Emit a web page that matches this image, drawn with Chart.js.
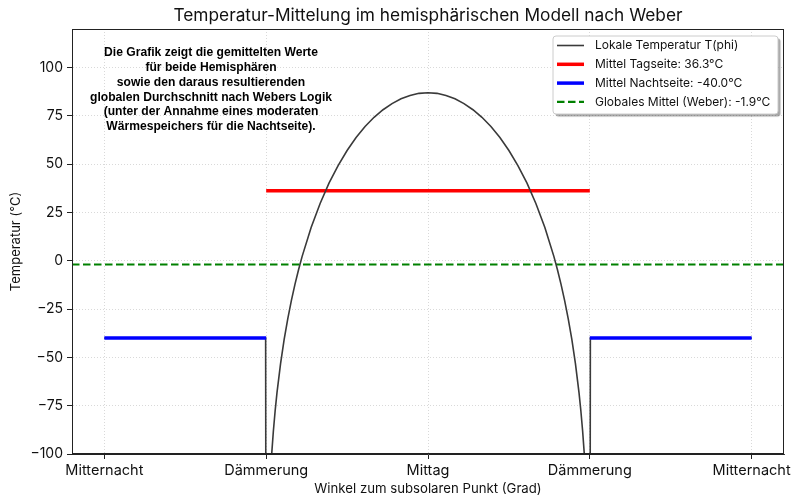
<!DOCTYPE html>
<html>
<head>
<meta charset="utf-8">
<script src="https://cdn.jsdelivr.net/npm/chart.js@4.4.1/dist/chart.umd.min.js"></script>
<style>
  html, body { margin: 0; padding: 0; background: #ffffff; }
  #tempChart { display: block; }
</style>
</head>
<body>
<canvas id="tempChart" width="800" height="504" style="width:800px;height:504px;"></canvas>
<script>
// Angle to the subsolar point (degrees) and local temperature (°C)
const angleDeg = [
  -180, -90.3, -90, -89, -88, -87, -86, -85, -84, -82, -80, -78, -76, -74, -72, -70,
  -65, -60, -55, -50, -45, -40, -35, -30, -25, -20, -15, -10, -5, 0,
  5, 10, 15, 20, 25, 30, 35, 40, 45, 50, 55, 60, 65,
  70, 72, 74, 76, 78, 80, 82, 84, 85, 86, 87, 88, 89, 90, 90.3, 180
];
const localTemp = [
  -40, -40, -273, -142.2, -117.5, -100.9, -88.1, -77.5, -68.4, -53.2, -40.7, -30.0, -20.6, -12.2, -4.6, 2.3,
  17.2, 29.7, 40.3, 49.3, 57.1, 63.8, 69.5, 74.3, 78.2, 81.4, 83.9, 85.6, 86.7, 87.0,
  86.7, 85.6, 83.9, 81.4, 78.2, 74.3, 69.5, 63.8, 57.1, 49.3, 40.3, 29.7, 17.2,
  2.3, -4.6, -12.2, -20.6, -30.0, -40.7, -53.2, -68.4, -77.5, -88.1, -100.9, -117.5, -142.2, -273, -40, -40
];

// Hemisphere means
const dayMean = 36.3;
const nightMean = -40.0;
const globalMean = -1.9;
const daySpan = [-90, 90];
const nightSpanLeft = [-180, -90];
const nightSpanRight = [90, 180];

// Axis ticks
const xTickValues = [-180, -90, 0, 90, 180];
const xTickLabels = ["Mitternacht", "Dämmerung", "Mittag", "Dämmerung", "Mitternacht"];
const yTickValues = [-100, -75, -50, -25, 0, 25, 50, 75, 100];

const noteLines = [
  "Die Grafik zeigt die gemittelten Werte",
  "für beide Hemisphären",
  "sowie den daraus resultierenden",
  "globalen Durchschnitt nach Webers Logik",
  "(unter der Annahme eines moderaten",
  "Wärmespeichers für die Nachtseite)."
];

const FONT = "Inter, 'Open Sans', 'DejaVu Sans', sans-serif";
const X_MIN = -198, X_MAX = 198;

const localPoints = angleDeg.map((a, i) => ({ x: a, y: localTemp[i] }));
const dayPoints = daySpan.map(a => ({ x: a, y: dayMean }));
const nightPoints = [
  ...nightSpanLeft.map(a => ({ x: a, y: nightMean })),
  { x: 0, y: null },
  ...nightSpanRight.map(a => ({ x: a, y: nightMean }))
];
const globalPoints = [X_MIN, X_MAX].map(a => ({ x: a, y: globalMean }));

function minusSign(v) {
  return v < 0 ? "\u2212" + Math.abs(v) : String(v);
}

// Title, frame, note text and the boxed legend inside the plot
const decorPlugin = {
  id: "decor",
  afterDraw(chart) {
    const ctx = chart.ctx;
    const area = chart.chartArea;
    ctx.save();

    // frame
    ctx.strokeStyle = "#222";
    ctx.lineWidth = 1;
    ctx.strokeRect(area.left + 0.5, area.top + 0.5, area.right - area.left - 1, area.bottom - area.top - 1);

    // title
    ctx.fillStyle = "#111";
    ctx.font = "17.3px " + FONT;
    ctx.textAlign = "center";
    ctx.textBaseline = "middle";
    ctx.fillText("Temperatur-Mittelung im hemisphärischen Modell nach Weber", (area.left + area.right) / 2, 16);

    // note, bold and a bit condensed like the original
    ctx.font = "bold 12.5px 'Liberation Sans', Arial, sans-serif";
    ctx.fillStyle = "#000";
    const widest = Math.max(...noteLines.map(l => ctx.measureText(l).width));
    const squeeze = Math.min(1, 242 / widest);
    ctx.save();
    ctx.translate(211, 0);
    ctx.scale(squeeze, 1);
    noteLines.forEach((line, i) => {
      ctx.fillText(line, 0, 53 + i * 14.7);
    });
    ctx.restore();

    // legend
    const items = chart.data.datasets;
    const bx = 553, by = 36, bw = 225, bh = 78;
    ctx.shadowColor = "rgba(0,0,0,0.35)";
    ctx.shadowOffsetX = 2.5;
    ctx.shadowOffsetY = 2.5;
    ctx.shadowBlur = 1;
    ctx.fillStyle = "#ffffff";
    ctx.beginPath();
    ctx.roundRect(bx, by, bw, bh, 3);
    ctx.fill();
    ctx.shadowColor = "transparent";
    ctx.strokeStyle = "#cccccc";
    ctx.lineWidth = 1;
    ctx.stroke();

    ctx.font = "12px " + FONT;
    ctx.textAlign = "left";
    items.forEach((ds, i) => {
      const y = by + 9.5 + i * 18.8;
      ctx.beginPath();
      ctx.strokeStyle = ds.borderColor;
      ctx.lineWidth = ds.borderWidth;
      ctx.setLineDash(ds.borderDash || []);
      ctx.moveTo(557, y);
      ctx.lineTo(584, y);
      ctx.stroke();
      ctx.setLineDash([]);
      ctx.fillStyle = "#111";
      ctx.fillText(ds.label, 595, y);
    });
    ctx.restore();
  }
};

const ctx = document.getElementById("tempChart").getContext("2d");
new Chart(ctx, {
  type: "line",
  data: {
    datasets: [
      {
        label: "Lokale Temperatur T(phi)",
        data: localPoints,
        borderColor: "#3a3a3a",
        borderWidth: 1.6,
        order: 1,
      },
      {
        label: `Mittel Tagseite: ${dayMean.toFixed(1)}°C`,
        data: dayPoints,
        borderColor: "#ff0000",
        borderWidth: 3.5,
        order: 3,
      },
      {
        label: `Mittel Nachtseite: ${nightMean.toFixed(1)}°C`,
        data: nightPoints,
        borderColor: "#0000ff",
        borderWidth: 3.5,
        spanGaps: false,
        order: 0,
      },
      {
        label: `Globales Mittel (Weber): ${globalMean.toFixed(1)}°C`,
        data: globalPoints,
        borderColor: "#008000",
        borderWidth: 2.2,
        borderDash: [7.5, 3.5],
        order: 2,
      },
    ],
  },
  options: {
    responsive: false,
    devicePixelRatio: 1,
    animation: false,
    parsing: false,
    elements: {
      point: { radius: 0, hoverRadius: 0 },
      line: { tension: 0, fill: false, borderCapStyle: "butt" },
    },
    layout: { padding: { top: 29, right: 16, bottom: 0, left: 0 } },
    plugins: {
      legend: { display: false },
      title: { display: false },
      tooltip: { enabled: false },
    },
    events: [],
    scales: {
      x: {
        type: "linear",
        min: X_MIN,
        max: X_MAX,
        afterBuildTicks: (scale) => { scale.ticks = xTickValues.map(v => ({ value: v })); },
        afterFit: (scale) => { scale.height = 50; },
        ticks: {
          autoSkip: false,
          maxRotation: 0,
          padding: 3,
          color: "#111",
          font: { size: 14.5, family: FONT },
          callback: (value) => xTickLabels[xTickValues.indexOf(value)],
        },
        grid: {
          color: "#cfcfcf",
          lineWidth: 0.8,
          tickColor: "#222",
          tickLength: 5,
          tickWidth: 1,
        },
        border: { display: true, color: "#222", width: 1, dash: [1, 2] },
        title: {
          display: true,
          text: "Winkel zum subsolaren Punkt (Grad)",
          color: "#111",
          font: { size: 13.2, family: FONT },
          padding: { top: 0, bottom: 7 },
        },
      },
      y: {
        type: "linear",
        min: -100,
        max: 120,
        afterBuildTicks: (scale) => { scale.ticks = yTickValues.map(v => ({ value: v })); },
        afterFit: (scale) => { scale.width = 72; },
        ticks: {
          padding: 4,
          color: "#111",
          font: { size: 14, family: FONT },
          callback: (value) => minusSign(value),
        },
        grid: {
          color: "#cfcfcf",
          lineWidth: 0.8,
          tickColor: "#222",
          tickLength: 5,
          tickWidth: 1,
        },
        border: { display: true, color: "#222", width: 1, dash: [1, 2] },
        title: {
          display: true,
          text: "Temperatur (°C)",
          color: "#111",
          font: { size: 13, family: FONT },
          padding: { top: 8, bottom: 0 },
        },
      },
    },
  },
  plugins: [decorPlugin],
});
</script>
</body>
</html>
